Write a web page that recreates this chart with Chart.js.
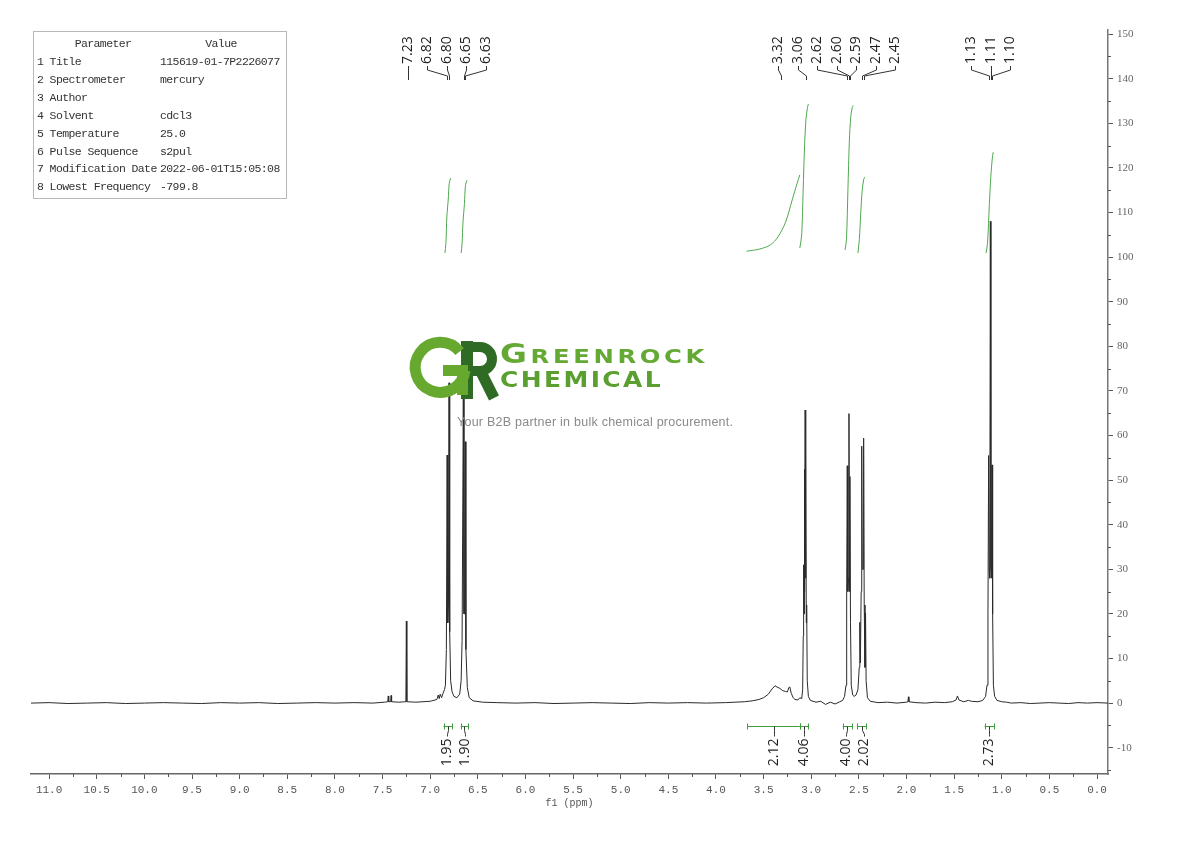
<!DOCTYPE html>
<html><head><meta charset="utf-8">
<script src="https://cdn.jsdelivr.net/npm/chart.js@4.4.1/dist/chart.umd.min.js"></script>
<style>
html,body{margin:0;padding:0;background:#fff;}
#wrap{position:relative;width:1190px;height:841px;overflow:hidden;background:#fff;}
#c{position:absolute;left:0;top:0;}
#params{position:absolute;left:33px;top:31px;width:252px;height:166px;border:1px solid #b8b8b8;font-family:"Liberation Mono",monospace;font-size:11.5px;letter-spacing:-0.6px;color:#333;}
#params div{position:absolute;white-space:pre;line-height:12px;}
#logo{position:absolute;left:0;top:0;pointer-events:none;}
</style></head>
<body><div id="wrap">
<canvas id="c" width="1190" height="841"></canvas>
<div id="params"></div>
<svg id="logo" width="1190" height="841" xmlns="http://www.w3.org/2000/svg">
  <path d="M468,347 H480 A12,12 0 0 1 480,371 H468" fill="none" stroke="#2f6b24" stroke-width="10"/>
  <rect x="461" y="341" width="12" height="58" fill="#2f6b24"/>
  <path d="M480,370 L494,398" stroke="#2f6b24" stroke-width="11" fill="none"/>
  <path d="M459.6,351.6 A25,25 0 1 0 465,370.5" fill="none" stroke="#67a92f" stroke-width="11"/>
  <rect x="443" y="365" width="25" height="11" fill="#67a92f"/>
  <rect x="457" y="365" width="11" height="30" fill="#67a92f"/>
  <text x="500" y="363" textLength="208" lengthAdjust="spacingAndGlyphs" letter-spacing="3" font-family="DejaVu Sans" font-weight="bold" fill="#64a934"><tspan font-size="27">G</tspan><tspan font-size="20">REENROCK</tspan></text>
  <text x="500" y="387" textLength="163" lengthAdjust="spacingAndGlyphs" letter-spacing="2" font-family="DejaVu Sans" font-weight="bold" font-size="21" fill="#5a9f2f">CHEMICAL</text>
  <text x="457" y="426" textLength="276" lengthAdjust="spacing" font-family="Liberation Sans" font-size="12.5" fill="#8a8a8a">Your B2B partner in bulk chemical procurement.</text>
</svg>
</div>
<script>
// ---------- data ----------
const paramNames = ["1 Title","2 Spectrometer","3 Author","4 Solvent","5 Temperature","6 Pulse Sequence","7 Modification Date","8 Lowest Frequency"];
const paramValues = ["115619-01-7P2226077","mercury","","cdcl3","25.0","s2pul","2022-06-01T15:05:08","-799.8"];

const specPpm = [11.19,11.0,10.8,10.6,10.4,10.2,10.0,9.8,9.6,9.4,9.2,9.0,8.8,8.6,8.4,8.2,8.0,7.8,7.6,7.48,
 7.445,7.44,7.435,7.415,7.41,7.405,7.33,7.255,7.25,7.245,7.15,7.0,6.93,6.915,6.905,6.895,6.88,6.865,6.85,
 6.84,6.83,6.822,6.815,6.808,6.802,6.795,6.785,6.77,6.75,6.72,6.69,6.675,6.665,6.652,6.645,6.638,6.632,6.625,6.61,6.59,6.55,
 6.45,6.3,6.1,5.9,5.7,5.5,5.3,5.1,4.9,4.7,4.5,4.3,4.1,3.9,3.8,3.7,3.62,3.55,3.5,3.45,3.41,3.38,3.36,3.33,3.30,3.27,3.25,3.235,3.225,3.21,3.19,3.17,3.14,3.12,
 3.10,3.09,3.084,3.08,3.076,3.072,3.068,3.064,3.06,3.056,3.052,3.048,3.042,3.03,3.01,2.95,2.9,2.85,2.80,2.75,2.70,2.67,
 2.65,2.635,2.628,2.622,2.616,2.608,2.604,2.598,2.594,2.588,2.58,2.565,2.55,2.53,2.51,
 2.496,2.49,2.484,2.476,2.47,2.464,2.456,2.45,2.444,2.436,2.43,2.424,2.41,2.38,2.3,2.2,2.1,2.0,1.985,1.98,1.975,
 1.9,1.8,1.7,1.6,1.52,1.48,1.465,1.45,1.40,1.35,1.32,1.25,1.2,1.17,1.155,1.145,1.138,1.132,1.126,1.12,1.114,1.108,1.102,1.096,1.088,1.075,1.05,
 1.0,0.95,0.9,0.8,0.7,0.6,0.5,0.4,0.3,0.2,0.1,0.0,-0.115];
const specInt = [0.0,0.1,-0.1,0.0,0.1,-0.1,0.0,0.1,0.0,-0.1,0.1,0.0,0.1,-0.1,0.0,0.1,0.0,0.1,0.0,0.2,
 0.3,1.6,0.3,0.3,1.7,0.3,0.2,0.3,18.4,0.3,0.2,0.4,0.8,1.8,1.0,2.0,1.2,2.2,3.0,
 4.0,12,55.6,18,22,71.8,16,5,2.5,1.5,1.2,2.0,5,14,68.4,20,20,58.6,12,3.5,1.2,0.5,
 0.2,0.1,0.0,0.1,-0.1,0.0,0.1,0.0,-0.1,0.1,0.0,0.1,0.0,0.1,0.2,0.3,0.5,0.8,1.2,2.0,3.2,3.9,3.6,3.3,2.8,2.6,2.5,3.5,3.6,2.2,1.2,0.8,0.7,1.2,
 1.0,3,15,31,20,52.4,25,65.7,28,60.5,18,22,5,1.5,0.6,0.2,0.4,-0.3,0.2,-0.2,0.3,0.6,
 1.5,4,25,53.2,25,28,64.9,25,50.8,18,4,1.8,1.5,1.8,3,
 8,18.1,9,25,57.6,30,30,59.4,22,8,20.2,5,1.2,0.4,0.1,0.2,0.0,0.2,0.3,1.4,0.3,
 0.1,0.0,0.2,0.1,0.3,0.7,1.6,0.7,0.3,0.6,0.4,0.3,0.6,1.5,4,20,55.5,30,28,108,30,28,53.4,20,4,1.5,0.6,
 0.3,0.2,0.0,0.1,-0.1,0.0,0.1,0.0,-0.1,0.1,0.0,0.1,0.0];

// integral curves: [ppm, value]
const integral1 = [[6.845,100.9],[6.835,103],[6.825,109],[6.81,113],[6.80,116.5],[6.785,117.7]];
const integral2 = [[6.675,100.9],[6.665,103],[6.655,108],[6.64,112],[6.63,116],[6.615,117.2]];
const integral3 = [[3.68,101.3],[3.54,101.8],[3.43,102.7],[3.35,104.5],[3.27,107.8],[3.20,112.8],[3.15,116.4],[3.12,118.4]];
const integral4 = [[3.12,102],[3.10,105],[3.085,115],[3.07,125],[3.055,131],[3.04,133.5],[3.03,134.3]];
const integral5 = [[2.645,101.6],[2.63,104],[2.615,115],[2.60,126],[2.585,131.5],[2.57,133.5],[2.56,134]];
const integral6 = [[2.51,100.9],[2.495,104],[2.48,110],[2.465,115],[2.45,117.3],[2.44,117.9]];
const integral7 = [[1.165,100.9],[1.15,103],[1.13,112],[1.115,118],[1.10,122],[1.09,123.5]];

const peakPpm = [7.23,6.82,6.80,6.65,6.63,3.32,3.06,2.62,2.60,2.59,2.47,2.45,1.13,1.11,1.10];
const integFrom = [6.86,6.68,3.67,3.12,2.67,2.52,1.18];
const integTo   = [6.77,6.60,3.12,3.03,2.57,2.42,1.08];
const integValues = ["1.95","1.90","2.12","4.06","4.00","2.02","2.73"];

const xTickStep = 0.5, yTickStep = 10;

// ---------- parameter table ----------
(function(){
  const box = document.getElementById('params');
  const add=(t,l,top,center)=>{const d=document.createElement('div');d.textContent=t;d.style.top=top+'px';
    if(center){d.style.left=(l)+'px';d.style.transform='translateX(-50%)';} else d.style.left=l+'px'; box.appendChild(d);};
  add('Parameter',69,6,true); add('Value',187,6,true);
  paramNames.forEach((n,i)=>{ add(n,3,24+i*17.9,false); add(paramValues[i],126,24+i*17.9,false); });
})();

// ---------- helpers ----------
function spread(p,d){
  const q=p.map((v,i)=>v-i*d), blocks=[];
  q.forEach(v=>{blocks.push({s:v,n:1});
    while(blocks.length>1){const a=blocks[blocks.length-2],b=blocks[blocks.length-1];
      if(a.s/a.n>b.s/b.n){a.s+=b.s;a.n+=b.n;blocks.pop();}else break;}});
  const z=[];blocks.forEach(b=>{for(let k=0;k<b.n;k++)z.push(b.s/b.n);});
  return z.map((v,i)=>v+i*d);
}
const GREEN='#3f9f3f';
const annot={
  id:'annot',
  afterDraw(chart){
    const {ctx,chartArea:ca,scales:{x,y}}=chart;
    ctx.save();
    // minor ticks
    ctx.strokeStyle='#555';ctx.lineWidth=1;
    x.ticks.forEach(t=>{const v=t.value+xTickStep/2; if(v<x.max){const px=Math.round(x.getPixelForValue(v))+0.5;
      ctx.beginPath();ctx.moveTo(px,ca.bottom);ctx.lineTo(px,ca.bottom+3);ctx.stroke();}});
    y.ticks.forEach(t=>{[t.value-yTickStep/2,t.value+yTickStep/2].forEach(v=>{ if(v>y.min&&v<y.max&&(t===y.ticks[0]||v>t.value)){const py=Math.round(y.getPixelForValue(v))+0.5;
      ctx.beginPath();ctx.moveTo(ca.right,py);ctx.lineTo(ca.right+3,py);ctx.stroke();}});});
    // peak labels
    const pp=peakPpm.map(p=>x.getPixelForValue(p));
    const lx=spread(pp,19.5);
    ctx.font='14px "Open Sans"';ctx.fillStyle='#222';ctx.strokeStyle='#333';ctx.lineWidth=1;
    const tBase=ca.top+34;
    peakPpm.forEach((p,i)=>{
      ctx.save();ctx.translate(lx[i],tBase);ctx.rotate(-Math.PI/2);ctx.textAlign='left';ctx.textBaseline='middle';
      ctx.fillText(p.toFixed(2),0,0);ctx.restore();
      const a=Math.round(lx[i])+0.5,b=Math.round(pp[i])+0.5;
      ctx.beginPath();ctx.moveTo(a,tBase+2);ctx.lineTo(a,tBase+6);ctx.lineTo(b,tBase+12);ctx.lineTo(b,tBase+16);ctx.stroke();
    });
    // integrals
    const by=Math.round(y.getPixelForValue(0))+23.5;
    const cx=integFrom.map((f,i)=>(x.getPixelForValue(f)+x.getPixelForValue(integTo[i]))/2);
    const ilx=spread(cx,18);
    integFrom.forEach((f,i)=>{
      const xs=x.getPixelForValue(f),xe=x.getPixelForValue(integTo[i]);
      ctx.strokeStyle=GREEN;ctx.lineWidth=1;
      ctx.beginPath();ctx.moveTo(xs,by);ctx.lineTo(xe,by);
      ctx.moveTo(Math.round(xs)+0.5,by-3);ctx.lineTo(Math.round(xs)+0.5,by+3);
      ctx.moveTo(Math.round(xe)+0.5,by-3);ctx.lineTo(Math.round(xe)+0.5,by+3);ctx.stroke();
      const c=Math.round(cx[i])+0.5,l=Math.round(ilx[i])+0.5;
      ctx.strokeStyle='#333';
      ctx.beginPath();ctx.moveTo(c,by);ctx.lineTo(c,by+4);ctx.lineTo(l,by+8);ctx.lineTo(l,by+10);ctx.stroke();
      ctx.save();ctx.translate(ilx[i],by+12);ctx.rotate(-Math.PI/2);ctx.textAlign='right';ctx.textBaseline='middle';
      ctx.fillStyle='#222';ctx.fillText(integValues[i],0,0);ctx.restore();
    });
    ctx.restore();
  }
};

const toXY=arr=>arr.map(([a,b])=>({x:a,y:b}));
const intDs=[integral1,integral2,integral3,integral4,integral5,integral6,integral7].map(a=>({
  data:toXY(a),borderColor:'#4ea84e',borderWidth:1,pointRadius:0,tension:0.3,fill:false}));

new Chart(document.getElementById('c'),{
  type:'line',
  data:{datasets:[
    {data:specPpm.map((p,i)=>({x:p,y:specInt[i]})),borderColor:'#2a2a2a',borderWidth:1,pointRadius:0,tension:0,fill:false},
    ...intDs
  ]},
  options:{
    responsive:false,devicePixelRatio:1,animation:false,events:[],
    layout:{padding:{left:31,top:30,right:0,bottom:29}},
    plugins:{legend:{display:false},tooltip:{enabled:false},title:{display:false}},
    scales:{
      x:{type:'linear',position:'bottom',reverse:true,min:-0.115,max:11.19,
        afterFit(s){s.height=38;s.paddingLeft=0;s.paddingRight=0;},
        ticks:{stepSize:xTickStep,includeBounds:false,autoSkip:false,maxRotation:0,padding:4,color:'#555',
          font:{family:'"Liberation Mono", monospace',size:11},
          callback:v=>(Math.abs(v)<1e-9?0:v).toFixed(1)},
        grid:{drawOnChartArea:false,drawTicks:true,tickLength:5,tickColor:'#555'},
        border:{display:true,color:'#666',width:1.5},
        title:{display:true,text:'f1 (ppm)',color:'#555',font:{family:'"Liberation Mono", monospace',size:10},padding:{top:0,bottom:3}}
      },
      y:{type:'linear',position:'right',min:-15.9,max:150.9,
        afterFit(s){s.width=82;s.paddingTop=0;s.paddingBottom=0;},
        ticks:{stepSize:yTickStep,includeBounds:false,padding:4,color:'#666',
          font:{family:'"Liberation Serif", serif',size:11},callback:v=>String(Math.round(v))},
        grid:{drawOnChartArea:false,drawTicks:true,tickLength:5,tickColor:'#555'},
        border:{display:true,color:'#777',width:1.5}
      }
    }
  },
  plugins:[annot]
});
</script>
</body></html>
